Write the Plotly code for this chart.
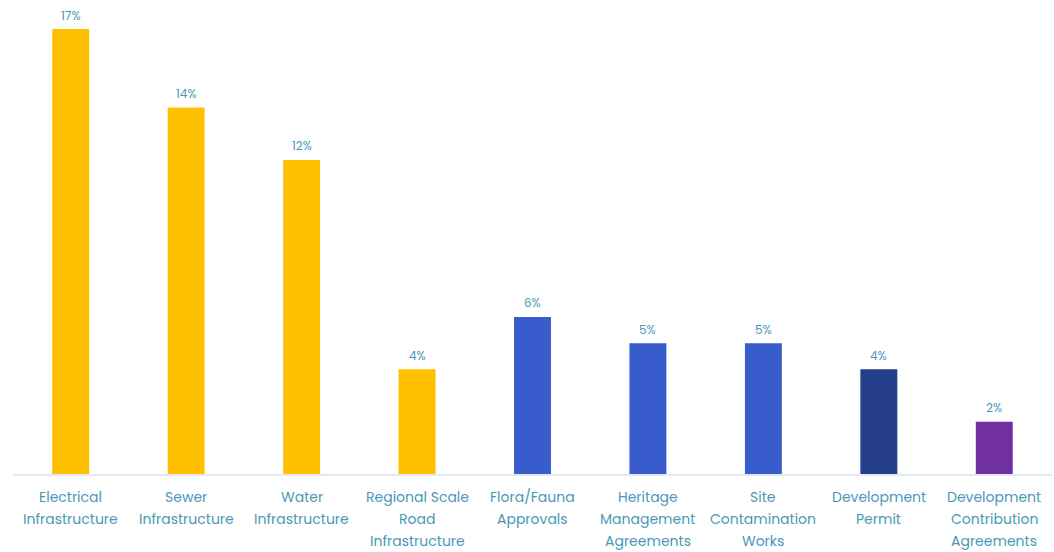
import plotly.graph_objects as go

# Share of respondents citing each constraint (%)
categories = [
    "Electrical<br>Infrastructure",
    "Sewer<br>Infrastructure",
    "Water<br>Infrastructure",
    "Regional Scale<br>Road<br>Infrastructure",
    "Flora/Fauna<br>Approvals",
    "Heritage<br>Management<br>Agreements",
    "Site<br>Contamination<br>Works",
    "Development<br>Permit",
    "Development<br>Contribution<br>Agreements",
]
values = [17, 14, 12, 4, 6, 5, 5, 4, 2]
bar_colors = [
    "#FFC000", "#FFC000", "#FFC000", "#FFC000",
    "#385CCB", "#385CCB", "#385CCB",
    "#253F8A",
    "#7131A0",
]

label_color = "#4A98B6"
font_family = "Poppins, 'Open Sans', sans-serif"
line_step = 22  # spacing between category label lines (px)

fig = go.Figure(
    go.Bar(
        x=categories,
        y=values,
        marker=dict(color=bar_colors, line=dict(width=0)),
        cliponaxis=False,
        hoverinfo="skip",
    )
)

annotations = []
# value labels above each bar
for cat, v in zip(categories, values):
    annotations.append(dict(
        x=cat, y=v, xref="x", yref="y",
        text=f"{v}%", showarrow=False,
        yanchor="middle", yshift=14,
        font=dict(size=12, color=label_color, family=font_family),
    ))
# category labels, one line at a time for wider line spacing
for cat in categories:
    for i, line in enumerate(cat.split("<br>")):
        annotations.append(dict(
            x=cat, y=0, xref="x", yref="y",
            text=line, showarrow=False,
            yanchor="middle", yshift=-(23 + i * line_step),
            font=dict(size=14, color=label_color, family=font_family),
        ))

fig.update_layout(
    width=1054,
    height=552,
    margin=dict(l=13, r=2, t=0, b=78),
    paper_bgcolor="white",
    plot_bgcolor="white",
    bargap=0.68,
    showlegend=False,
    font=dict(family=font_family, color=label_color),
    annotations=annotations,
    xaxis=dict(
        showgrid=False,
        showline=True,
        linecolor="#E4E8F4",
        linewidth=2,
        ticks="",
        showticklabels=False,
        fixedrange=True,
    ),
    yaxis=dict(
        range=[0, 18.11],
        visible=False,
        fixedrange=True,
    ),
)

fig.write_html("out.html")
